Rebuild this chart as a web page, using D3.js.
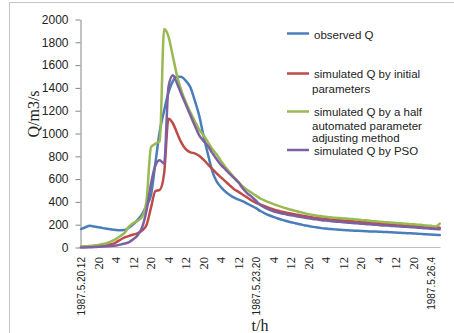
<!DOCTYPE html>
<html><head><meta charset="utf-8">
<script src="https://cdn.jsdelivr.net/npm/d3@7"></script>
<style>body{margin:0;background:#fff}svg{display:block}</style>
</head><body><svg id="c" width="454" height="333"></svg>
<script>
const tickLabels=["1987.5.20.12","20","4","12","20","4","12","20","4","12","1987.5.23.20","4","12","20","4","12","20","4","12","20","1987.5.26.4"];
const yTicks=[0,200,400,600,800,1000,1200,1400,1600,1800,2000];
const seriesNames=["observed Q","simulated Q by initial parameters","simulated Q by a half automated parameter adjusting method","simulated Q by PSO"];
const observed=[162,178,190,184,177,170,164,158,154,152,153,175,205,245,295,370,460,740,1020,1200,1360,1460,1500,1495,1460,1405,1290,1160,980,820,670,580,530,490,460,437,420,405,385,365,345,320,300,283,268,254,242,232,222,213,204,196,188,181,175,170,166,162,159,156,153,151,149,147,145,143,141,140,139,137,135,133,131,129,127,125,123,121,118,116,113,111,109];
const simInitial=[5,6,8,10,12,15,20,28,45,68,88,102,114,125,150,200,350,495,505,650,1130,1090,1000,915,860,835,826,805,770,730,690,650,615,580,545,512,488,463,438,412,392,378,362,348,335,322,313,305,298,290,284,277,270,264,259,254,250,246,242,239,236,233,230,227,224,221,218,215,212,209,206,203,200,197,194,191,188,185,182,180,178,176,174];
const simHalfAuto=[8,10,14,18,22,30,40,55,75,100,130,185,215,235,270,420,880,910,935,1916,1850,1675,1500,1370,1270,1185,1110,1035,985,925,865,815,760,705,660,615,575,535,505,480,455,430,412,396,381,367,354,342,331,321,311,302,293,285,279,274,269,265,261,258,255,252,249,246,242,238,234,230,227,224,221,218,215,212,209,206,203,200,197,194,190,184,210];
const simPSO=[0,0,2,4,6,8,10,14,18,25,35,48,75,110,180,330,560,720,765,735,1410,1510,1435,1340,1250,1160,1070,985,935,890,830,775,725,685,645,608,570,518,475,445,410,372,350,333,318,306,298,290,283,276,269,262,256,250,245,240,236,232,228,225,221,218,215,212,209,206,203,200,197,194,192,189,187,185,182,179,177,174,171,168,165,162,160];
const colors=["#4a7ebb","#be4b48","#98b954","#7d60a0"];

const svg=d3.select("#c");
svg.append("rect").attr("x",9.5).attr("y",2.5).attr("width",480).attr("height",380)
  .attr("fill","none").attr("stroke","#c6c6c6");

const n=observed.length;
const x=d3.scaleLinear().domain([0,n-1]).range([81,439.75]);
const y=d3.scaleLinear().domain([0,2000]).range([247.5,19.5]);

// y axis
const ya=svg.append("g").attr("transform","translate(80.5,0)")
  .call(d3.axisLeft(y).tickValues(yTicks).tickFormat(d3.format("d")).tickSize(5).tickSizeOuter(0).tickPadding(7));
ya.select(".domain").attr("stroke","#868686");
ya.selectAll(".tick line").attr("stroke","#868686");
ya.selectAll(".tick text").attr("font-family","Liberation Sans, Arial, sans-serif").attr("font-size",12).attr("fill","#222");

// x axis line
svg.append("line").attr("x1",80).attr("x2",440.5).attr("y1",247.5).attr("y2",247.5)
  .attr("stroke","#bfbfbf").attr("stroke-width",1);

// x tick labels
const tickIdx=tickLabels.map((d,i)=>i*4);
svg.append("g").selectAll("text").data(tickLabels).join("text")
  .attr("transform",(d,i)=>`translate(${x(tickIdx[i])},257) rotate(-90)`)
  .attr("text-anchor","end").attr("dy","0.35em")
  .attr("font-family",d=>d.length>3?"Liberation Sans, Arial, sans-serif":"Liberation Serif, Times New Roman, serif")
  .attr("font-size",d=>d.length>3?10:12.5).attr("fill","#222")
  .text(d=>d);

// lines
const line=d3.line().x((d,i)=>x(i)).y(d=>y(d)).curve(d3.curveMonotoneX);
[observed,simInitial,simHalfAuto,simPSO].forEach((s,k)=>{
  svg.append("path").attr("d",line(s)).attr("fill","none").attr("stroke",colors[k])
    .attr("stroke-width",2.5).attr("stroke-linejoin","round").attr("stroke-linecap","round");
});

// axis titles
svg.append("text").attr("transform","translate(38.5,114) rotate(-90)").attr("text-anchor","middle")
  .attr("font-family","Liberation Serif, Times New Roman, serif").attr("font-size",16).attr("fill","#222").text("Q/m3/s");
svg.append("text").attr("x",260).attr("y",331).attr("text-anchor","middle")
  .attr("font-family","Liberation Serif, Times New Roman, serif").attr("font-size",16).attr("fill","#222").text("t/h");

// legend
const legendLines=[["observed Q"],["simulated Q by initial","parameters"],["simulated Q by a half","automated parameter","adjusting method"],["simulated Q by PSO"]];
const legY=[33.5,73.5,111.5,150];
const textY=[[38.5],[77.5,92.5],[115.5,130,142],[154.5]];
const lg=svg.append("g");
legendLines.forEach((ls,k)=>{
  lg.append("line").attr("x1",287).attr("x2",309).attr("y1",legY[k]).attr("y2",legY[k])
    .attr("stroke",colors[k]).attr("stroke-width",2.5);
  ls.forEach((t,j)=>{
    lg.append("text").attr("x",j===0?314:312).attr("y",textY[k][j])
      .attr("font-family","Liberation Sans, Arial, sans-serif").attr("font-size",11.5).attr("fill","#222").text(t);
  });
});
</script></body></html>
